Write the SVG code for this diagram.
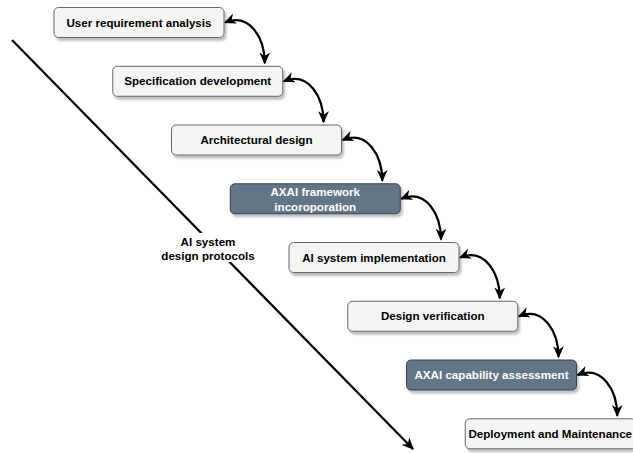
<svg xmlns="http://www.w3.org/2000/svg" width="633" height="453" viewBox="0 0 633 453">
<style>
.box{fill:#f5f5f5;stroke:#666666;stroke-width:1;filter:url(#sh)}
.dark{fill:#647687;stroke:#314354;stroke-width:1;filter:url(#sh)}
text{font-family:"Liberation Sans",Arial,sans-serif;font-weight:bold;font-size:11.6px;text-anchor:middle;fill:#000}
.w{fill:#ffffff}
.edge{fill:none;stroke:#000;stroke-width:2.2;marker-start:url(#ar);marker-end:url(#ar)}
</style>
<defs>
<filter id="sh" x="-10%" y="-30%" width="130%" height="180%">
<feDropShadow dx="2" dy="3" stdDeviation="1" flood-color="#000" flood-opacity="0.25"/>
</filter>
<marker id="ar" viewBox="0 0 10 10" refX="9" refY="5" markerWidth="12" markerHeight="12" markerUnits="userSpaceOnUse" orient="auto-start-reverse">
<path d="M0,0.5 L10,5 L0,9.5 L3,5 Z" fill="#000"/>
</marker>
</defs>
<g id="connectors">
<path class="edge" d="M225,22.5 c25,-10 39.75,15.75 39.75,40.75"/>
<path class="edge" d="M283.75,81.25 c25,-10 39.75,15.75 39.75,40.75"/>
<path class="edge" d="M342.5,140 c25,-10 39.75,15.75 39.75,40.75"/>
<path class="edge" d="M401.25,198.75 c25,-10 39.75,15.75 39.75,40.75"/>
<path class="edge" d="M460,257.5 c25,-10 39.75,15.75 39.75,40.75"/>
<path class="edge" d="M518.75,316.25 c25,-10 39.75,15.75 39.75,40.75"/>
<path class="edge" d="M577.5,375 c25,-10 39.75,15.75 39.75,40.75"/>
<g id="timeline">
<path d="M12,40 L413,449" fill="none" stroke="#000" stroke-width="2.2" marker-end="url(#ar)"/>
<rect x="161" y="233" width="96" height="29" fill="#ffffff"/>
<text x="208" y="245.5">AI system</text>
<text x="208" y="259.5">design protocols</text>
</g>
</g>
<g id="n1"><rect class="box" x="54" y="7.5" width="170" height="30" rx="4.5"/><text x="139" y="26.5">User requirement analysis</text></g>
<g id="n2"><rect class="box" x="112.75" y="66.25" width="170" height="30" rx="4.5"/><text x="197.75" y="85.25">Specification development</text></g>
<g id="n3"><rect class="box" x="171.5" y="125" width="170" height="30" rx="4.5"/><text x="256.5" y="144">Architectural design</text></g>
<g id="n4"><rect class="dark" x="230.25" y="183.75" width="170" height="30" rx="4.5"/><text class="w" x="315.25" y="196">AXAI framework</text><text class="w" x="315.25" y="210.5">incoroporation</text></g>
<g id="n5"><rect class="box" x="289" y="242.5" width="170" height="30" rx="4.5"/><text x="374" y="261.5">AI system implementation</text></g>
<g id="n6"><rect class="box" x="347.75" y="301.25" width="170" height="30" rx="4.5"/><text x="432.75" y="320.25">Design verification</text></g>
<g id="n7"><rect class="dark" x="406.5" y="360" width="170" height="30" rx="4.5"/><text class="w" x="491.5" y="379">AXAI capability assessment</text></g>
<g id="n8"><rect class="box" x="465.25" y="418.75" width="170" height="30" rx="4.5"/><text x="550.25" y="437.75">Deployment and Maintenance</text></g>
</svg>
